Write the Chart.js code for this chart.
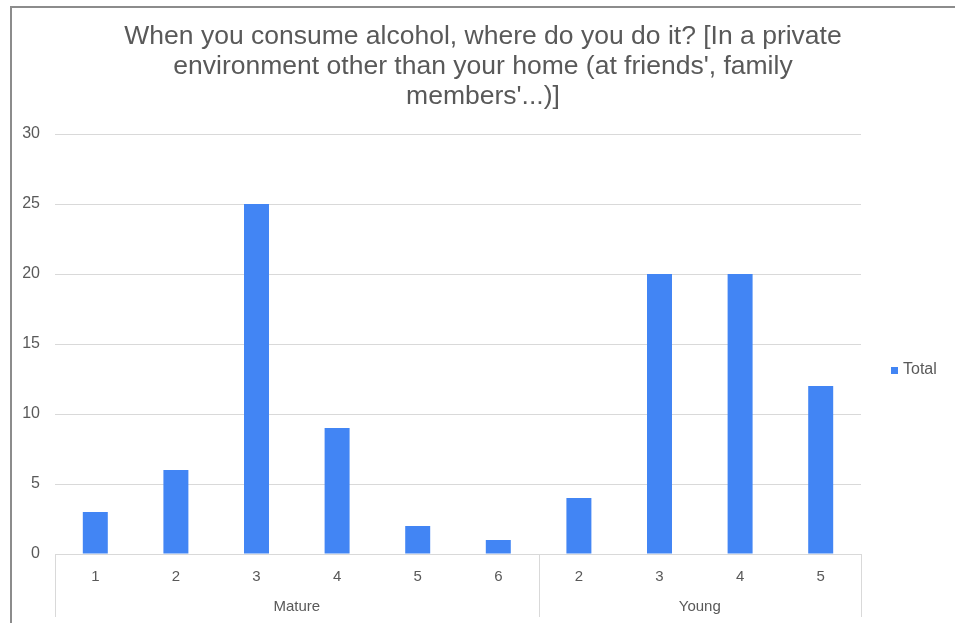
<!DOCTYPE html>
<html>
<head>
<meta charset="utf-8">
<script src="https://cdn.jsdelivr.net/npm/chart.js@4/dist/chart.umd.min.js"></script>
<style>
  body { margin: 0; background: #fff; }
  #wrap { position: relative; width: 955px; height: 623px; }
  #frame { position: absolute; left: 10px; top: 6px; right: 0; bottom: 0;
           border-left: 2px solid #8c8c8c; border-top: 2px solid #8c8c8c; }
  canvas { position: absolute; left: 0; top: 0; }
</style>
</head>
<body>
<div id="wrap">
  <div id="frame"></div>
  <canvas id="mycanvas" width="955" height="623"></canvas>
</div>
<script>
var titleLines = ['When you consume alcohol, where do you do it? [In a private',
                  "environment other than your home (at friends', family",
                  "members'...)]"];
var categories = ['1', '2', '3', '4', '5', '6', '2', '3', '4', '5'];
var totals = [3, 6, 25, 9, 2, 1, 4, 20, 20, 12];
var groupNames = ['Mature', 'Young'];
var groupSizes = [6, 4];
var seriesName = 'Total';

var textColor = '#595959';
var lineColor = '#d9d9d9';
var fontFamily = '"Liberation Sans", Arial, sans-serif';

// group labels under the category ticks + separators, and the legend
var groupPlugin = {
    id: 'groups',
    afterDraw: function(chart) {
        var ctx = chart.ctx;
        var x = chart.scales.x;
        var area = chart.chartArea;
        var half = (x.getPixelForValue(1) - x.getPixelForValue(0)) / 2;
        ctx.save();
        ctx.strokeStyle = lineColor;
        ctx.lineWidth = 1;
        ctx.fillStyle = textColor;
        ctx.font = '15px ' + fontFamily;
        ctx.textAlign = 'center';
        ctx.textBaseline = 'middle';
        var start = 0;
        var edges = [x.getPixelForValue(0) - half];
        for (var g = 0; g < groupNames.length; g++) {
            var end = start + groupSizes[g] - 1;
            var left = x.getPixelForValue(start) - half;
            var right = x.getPixelForValue(end) + half;
            edges.push(right);
            ctx.fillText(groupNames[g], (left + right) / 2, area.bottom + 53);
            start = end + 1;
        }
        for (var i = 0; i < edges.length; i++) {
            var px = Math.round(edges[i]) + 0.5;
            ctx.beginPath();
            ctx.moveTo(px, area.bottom);
            ctx.lineTo(px, area.bottom + 63);
            ctx.stroke();
        }
        // legend
        var ds = chart.data.datasets[0];
        var ly = area.top + 236;
        ctx.fillStyle = ds.backgroundColor;
        ctx.fillRect(area.right + 30, ly - 3, 7, 7);
        ctx.fillStyle = textColor;
        ctx.textAlign = 'left';
        ctx.font = '16px ' + fontFamily;
        ctx.fillText(ds.label, area.right + 42, ly);
        ctx.restore();
    }
};

var ctx = document.getElementById('mycanvas');
var barGraph = new Chart(ctx, {
    type: 'bar',
    data: {
        labels: categories,
        datasets: [{
            label: seriesName,
            data: totals,
            backgroundColor: '#4285f4',
            borderWidth: 0,
            barPercentage: 0.31,
            categoryPercentage: 1
        }]
    },
    options: {
        responsive: false,
        animation: false,
        layout: { padding: { left: 11, right: 0, top: 0, bottom: 0 } },
        plugins: {
            legend: { display: false },
            tooltip: { enabled: false },
            title: {
                display: true,
                text: titleLines,
                color: textColor,
                font: { family: fontFamily, size: 26.5, weight: 'normal', lineHeight: 30 / 26.5 },
                padding: { top: 22, bottom: 22 }
            }
        },
        scales: {
            x: {
                grid: { display: false },
                border: { display: false },
                ticks: { color: textColor, padding: 6, font: { family: fontFamily, size: 15 } },
                afterFit: function(scale) { scale.height = 69; }
            },
            y: {
                min: 0,
                max: 30,
                grid: { color: lineColor, drawTicks: false },
                border: { display: false },
                ticks: { stepSize: 5, color: textColor, padding: 15, font: { family: fontFamily, size: 16 } },
                afterFit: function(scale) { scale.width = 44; }
            },
            // empty right axis: leaves room for the legend
            legendSpace: {
                position: 'right',
                grid: { display: false },
                border: { display: false },
                ticks: { display: false },
                afterFit: function(scale) { scale.width = 94; }
            }
        }
    },
    plugins: [groupPlugin]
});
</script>
</body>
</html>
